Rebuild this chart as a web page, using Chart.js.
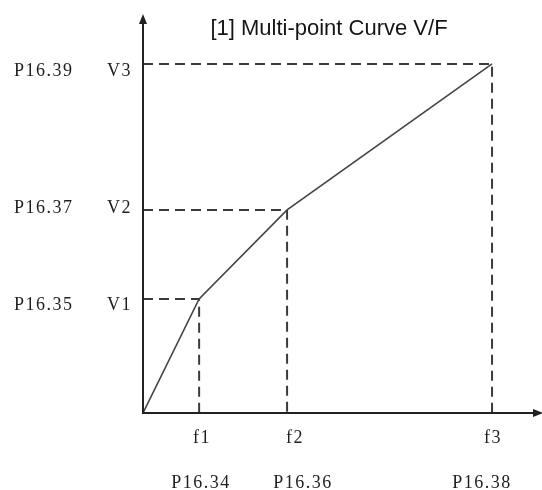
<!DOCTYPE html>
<html>
<head>
<meta charset="utf-8">
<style>
  html, body { margin: 0; padding: 0; background: #fff; }
  #wrap { width: 542px; height: 490px; position: relative; }
</style>
<script src="https://cdn.jsdelivr.net/npm/chart.js@4/dist/chart.umd.min.js"></script>
</head>
<body>
<div id="wrap"><canvas id="vf"></canvas></div>
<script>
// Multi-point V/F curve: frequency break points and their voltages
const freqNames = ['f1', 'f2', 'f3'];
const freqParams = ['P16.34', 'P16.36', 'P16.38'];
const voltNames = ['V1', 'V2', 'V3'];
const voltParams = ['P16.35', 'P16.37', 'P16.39'];
const freqValues = [1.41, 3.62, 8.77];
const voltValues = [2.86, 5.09, 8.75];
const chartTitle = '[1] Multi-point Curve V/F';

// small nudges for the hand-placed annotation text
const freqNameDx = [2, 7, 0];
const freqParamDx = [1, 15, -11];
const voltLabelDy = [6, -2, 7];

const curve = [{ x: 0, y: 0 }].concat(freqValues.map((f, i) => ({ x: f, y: voltValues[i] })));

const guideSets = freqValues.map((f, i) => ({
  data: [{ x: 0, y: voltValues[i] }, { x: f, y: voltValues[i] }, { x: f, y: 0 }],
  borderColor: '#3a3a3a',
  borderWidth: 2,
  borderDash: [10, 6],
  pointRadius: 0,
  tension: 0,
  fill: false
}));

const serif = '"Liberation Serif", "DejaVu Serif", serif';

const axesAndText = {
  id: 'axesAndText',
  afterDatasetsDraw(chart) {
    const { ctx, chartArea, scales } = chart;
    const x0 = scales.x.getPixelForValue(0);
    const y0 = scales.y.getPixelForValue(0);
    ctx.save();
    // axes
    ctx.strokeStyle = '#222';
    ctx.fillStyle = '#222';
    ctx.lineWidth = 2;
    ctx.setLineDash([]);
    ctx.beginPath();
    ctx.moveTo(x0, y0);
    ctx.lineTo(x0, chartArea.top + 8);
    ctx.moveTo(x0 - 1, y0);
    ctx.lineTo(chartArea.right - 6, y0);
    ctx.stroke();
    // arrow heads
    ctx.beginPath();
    ctx.moveTo(x0, chartArea.top);
    ctx.lineTo(x0 - 4, chartArea.top + 10);
    ctx.lineTo(x0 + 4, chartArea.top + 10);
    ctx.closePath();
    ctx.fill();
    ctx.beginPath();
    ctx.moveTo(chartArea.right + 2, y0);
    ctx.lineTo(chartArea.right - 8, y0 - 4);
    ctx.lineTo(chartArea.right - 8, y0 + 4);
    ctx.closePath();
    ctx.fill();

    // title
    ctx.fillStyle = '#151515';
    ctx.font = '22px "Liberation Sans", Arial, sans-serif';
    ctx.textAlign = 'center';
    ctx.textBaseline = 'middle';
    ctx.fillText(chartTitle, 329, 29);

    // frequency labels below the axis
    ctx.fillStyle = '#1e1e1e';
    ctx.font = '18px ' + serif;
    ctx.letterSpacing = '1.5px';
    freqValues.forEach((f, i) => {
      const px = scales.x.getPixelForValue(f);
      ctx.fillText(freqNames[i], px + freqNameDx[i] + 1, y0 + 25);
      ctx.fillText(freqParams[i], px + freqParamDx[i] + 1, y0 + 70);
    });

    // voltage labels left of the axis
    ctx.textAlign = 'left';
    voltValues.forEach((v, i) => {
      const py = scales.y.getPixelForValue(v) + voltLabelDy[i];
      ctx.fillText(voltParams[i], 14, py);
      ctx.fillText(voltNames[i], 107, py);
    });
    ctx.restore();
  }
};

new Chart(document.getElementById('vf'), {
  type: 'line',
  data: {
    datasets: [{
      data: curve,
      borderColor: '#444',
      borderWidth: 1.6,
      pointRadius: 0,
      tension: 0,
      fill: false
    }].concat(guideSets)
  },
  options: {
    responsive: true,
    maintainAspectRatio: false,
    animation: false,
    events: [],
    layout: { padding: { left: 143, right: 1, top: 14, bottom: 77 } },
    plugins: { legend: { display: false }, tooltip: { enabled: false }, title: { display: false } },
    scales: {
      x: { type: 'linear', min: 0, max: 10, display: false },
      y: { type: 'linear', min: 0, max: 10, display: false }
    }
  },
  plugins: [axesAndText]
});
</script>
</body>
</html>
